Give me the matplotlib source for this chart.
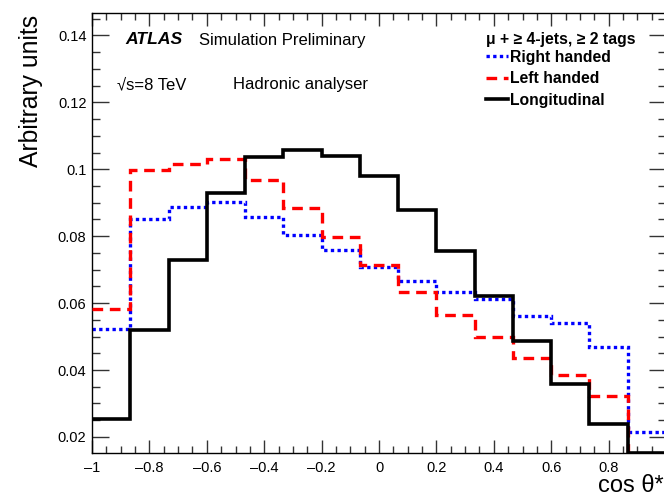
import numpy as np
import matplotlib.pyplot as plt
from matplotlib.ticker import MultipleLocator

plt.rcParams['font.family'] = ['Liberation Sans', 'DejaVu Sans']

# 15 bins in cos theta*
edges = np.linspace(-1, 1, 16)

right_handed = [0.0523, 0.0851, 0.0886, 0.0901, 0.0856, 0.0805, 0.0759, 0.0707,
                0.0665, 0.0632, 0.0613, 0.0561, 0.0540, 0.0470, 0.0215]
left_handed = [0.0583, 0.0997, 0.1017, 0.1032, 0.0968, 0.0883, 0.0797, 0.0714,
               0.0632, 0.0565, 0.0498, 0.0437, 0.0386, 0.0322, 0.0120]
longitudinal = [0.0255, 0.0521, 0.0729, 0.0929, 0.1038, 0.1057, 0.1040, 0.0981,
                0.0879, 0.0757, 0.0620, 0.0486, 0.0359, 0.0238, 0.0152]

fig = plt.figure(figsize=(6.64, 4.98), dpi=100)
ax = fig.add_axes([92 / 664, 45 / 498, (666 - 92) / 664, (453 - 13) / 498])

ax.stairs(right_handed, edges, baseline=None, color='blue', lw=2.4,
          ls=(0, (1.0, 1.0)), label='Right handed', zorder=2)
ax.stairs(left_handed, edges, baseline=None, color='red', lw=2.4,
          ls=(0, (3.2, 2.0)), label='Left handed', zorder=3)
ax.stairs(longitudinal, edges, baseline=None, color='black', lw=2.6, ls='-',
          label='Longitudinal', zorder=4)

ax.set_xlim(-1, 1)
ax.set_ylim(0.0152, 0.1467)

ax.xaxis.set_minor_locator(MultipleLocator(0.05))
ax.yaxis.set_minor_locator(MultipleLocator(0.005))
ax.set_xticks([-1, -0.8, -0.6, -0.4, -0.2, 0, 0.2, 0.4, 0.6, 0.8])
ax.set_xticklabels(['\u20131', '\u20130.8', '\u20130.6', '\u20130.4', '\u20130.2',
                    '0', '0.2', '0.4', '0.6', '0.8'])
ax.set_yticks([0.02, 0.04, 0.06, 0.08, 0.1, 0.12, 0.14])
ax.set_yticklabels(['0.02', '0.04', '0.06', '0.08', '0.1', '0.12', '0.14'])

ax.tick_params(which='both', direction='in', top=True, right=True,
               labelsize=10.5, width=1.0, color='#333333')
ax.tick_params(axis='x', which='major', length=9.5, pad=6)
ax.tick_params(axis='x', which='minor', length=5)
ax.tick_params(axis='y', which='major', length=12, pad=4)
ax.tick_params(axis='y', which='minor', length=6)
for s in ax.spines.values():
    s.set_linewidth(1.0)

fig.text(0.046, 0.97, 'Arbitrary units', rotation=90, ha='center', va='top',
         fontsize=17.8)
fig.text(1.0, 1 - 486 / 498, 'cos \u03b8*', ha='right', va='center', fontsize=17)

# ATLAS label
fig.text(125 / 664, 1 - 40 / 498, 'ATLAS', fontsize=12.6, fontweight='bold',
         fontstyle='italic', va='center')
fig.text(199 / 664, 1 - 40 / 498, 'Simulation Preliminary', fontsize=12, va='center')
fig.text(117 / 664, 1 - 85 / 498, '\u221as=8 TeV', fontsize=12, va='center')
fig.text(233 / 664, 1 - 85 / 498, 'Hadronic analyser', fontsize=12, va='center')

leg = ax.legend(loc='upper left', bbox_to_anchor=(478 / 664, 1 - 24 / 498),
                bbox_transform=fig.transFigure, frameon=False, handlelength=1.4,
                handletextpad=0.15, labelspacing=0.42, borderpad=0,
                title='\u03bc + \u2265 4-jets, \u2265 2 tags',
                prop={'weight': 'bold', 'size': 11.3})
leg.get_title().set_fontweight('bold')
leg.get_title().set_fontsize(11.3)
leg._legend_box.align = 'left'
leg._legend_box.sep = 2

fig.savefig('out.png', dpi=100)
